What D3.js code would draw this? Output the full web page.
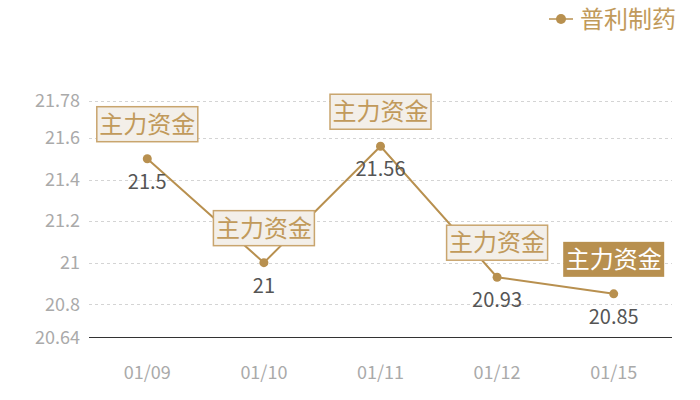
<!DOCTYPE html>
<html>
<head>
<meta charset="utf-8">
<script src="https://cdn.jsdelivr.net/npm/d3@7"></script>
<style>
  body { margin: 0; background: #fff; }
  text { font-family: "Noto Sans CJK SC", "Noto Sans", sans-serif; }
</style>
</head>
<body>
<div id="chart"></div>
<script>
const dates = ["01/09", "01/10", "01/11", "01/12", "01/15"];
const prices = [21.5, 21, 21.56, 20.93, 20.85];
const yTicks = [20.64, 20.8, 21, 21.2, 21.4, 21.6, 21.78];
const seriesName = "普利制药";
const markLabel = "主力资金";

const width = 700, height = 400;
const gold = "#b8904f";

const svg = d3.select("#chart").append("svg")
    .attr("width", width)
    .attr("height", height);

const x = d3.scaleBand().domain(dates).range([89, 672]);
const y = d3.scaleLinear().domain([20.64, 21.78]).range([337.5, 100.5]);
const cx = d => x(d) + x.bandwidth() / 2;

// gridlines
svg.selectAll(".grid")
    .data(yTicks.filter(t => t !== 20.64))
    .enter().append("line")
    .attr("x1", 89).attr("x2", 672)
    .attr("y1", d => Math.round(y(d)) + 0.5).attr("y2", d => Math.round(y(d)) + 0.5)
    .attr("stroke", "#d4d4d4")
    .attr("stroke-dasharray", "3,3");

// y axis labels
svg.selectAll(".ylab")
    .data(yTicks)
    .enter().append("text")
    .attr("x", 80)
    .attr("y", d => y(d))
    .attr("dy", "0.35em")
    .attr("text-anchor", "end")
    .attr("fill", "#aaa")
    .style("font-size", "18px")
    .text(d => d);

// baseline
svg.append("line")
    .attr("x1", 89).attr("x2", 672)
    .attr("y1", y(20.64)).attr("y2", y(20.64))
    .attr("stroke", "#333")
    .attr("stroke-width", 1);

// x labels
svg.selectAll(".xlab")
    .data(dates)
    .enter().append("text")
    .attr("x", d => cx(d))
    .attr("y", 379)
    .attr("text-anchor", "middle")
    .attr("fill", "#aaa")
    .style("font-size", "18px")
    .text(d => d);

// line
const line = d3.line()
    .x((d, i) => cx(dates[i]))
    .y(d => y(d));

svg.append("path")
    .datum(prices)
    .attr("d", line)
    .attr("fill", "none")
    .attr("stroke", gold)
    .attr("stroke-width", 2);

svg.selectAll(".dot")
    .data(prices)
    .enter().append("circle")
    .attr("cx", (d, i) => cx(dates[i]))
    .attr("cy", d => y(d))
    .attr("r", 4.5)
    .attr("fill", gold);

// value labels
svg.selectAll(".val")
    .data(prices)
    .enter().append("text")
    .attr("x", (d, i) => cx(dates[i]))
    .attr("y", d => y(d) + 30)
    .attr("text-anchor", "middle")
    .attr("fill", "#555")
    .style("font-size", "20px")
    .text(d => d);

// marker boxes
const boxW = 101, boxH = 35;
const marks = svg.selectAll(".mark")
    .data(prices)
    .enter().append("g")
    .attr("transform", (d, i) => `translate(${cx(dates[i])}, ${y(d) - 17 - boxH / 2})`);

marks.append("rect")
    .attr("x", -boxW / 2).attr("y", -boxH / 2)
    .attr("width", boxW).attr("height", boxH)
    .attr("fill", (d, i) => i === prices.length - 1 ? gold : "#f3efe9")
    .attr("stroke", (d, i) => i === prices.length - 1 ? "none" : "#c9a56e")
    .attr("stroke-width", 1.5);

marks.append("text")
    .attr("text-anchor", "middle")
    .attr("dy", "0.36em")
    .attr("fill", (d, i) => i === prices.length - 1 ? "#fff" : "#c19a5b")
    .style("font-size", "24px")
    .text(markLabel);

// legend
const legend = svg.append("g").attr("transform", "translate(549, 19)");
legend.append("line")
    .attr("x1", 0).attr("x2", 24)
    .attr("stroke", gold).attr("stroke-width", 1.5);
legend.append("circle")
    .attr("cx", 12).attr("r", 5)
    .attr("fill", gold);
legend.append("text")
    .attr("x", 31)
    .attr("dy", "0.36em")
    .attr("fill", "#c19a5b")
    .style("font-size", "24px")
    .text(seriesName);
</script>
</body>
</html>
